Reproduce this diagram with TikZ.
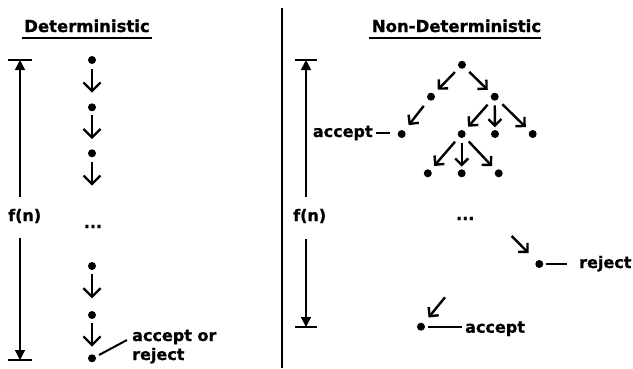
\documentclass[tikz,border=0pt]{standalone}
\usepackage{fontspec}
\setmainfont{DejaVu Sans}[BoldFeatures={FakeBold=1}]
\usetikzlibrary{arrows.meta,calc}
\begin{document}
\begin{tikzpicture}[x=1pt,y=-1pt,
  dot/.style={circle,fill=black,inner sep=0pt,minimum size=8pt},
  lab/.style={font=\fontsize{16}{19}\selectfont\bfseries,inner sep=0pt},
  ttl/.style={font=\fontsize{16.5}{19}\selectfont\bfseries,inner sep=0pt,anchor=base},
  arr/.style={line width=2.3pt,-{Straight Barb[length=8.5pt,width=17pt]}},
  tarr/.style={line width=2.4pt,-{Straight Barb[length=6.5pt,width=13pt]}},
  fa/.style={line width=1.5pt,-{Triangle[length=10pt,width=10pt]}},
  bar/.style={line width=1.5pt},
  ul/.style={line width=1.7pt},
  tie/.style={line width=2pt}]
\fill[white] (0,0) rectangle (633,368);
\useasboundingbox (0,0) rectangle (633,368);
% titles
\node[ttl] (t1) at (87,32) {Deterministic};
\draw[ul] ($(t1.base west)+(-2,6)$) -- ($(t1.base east)+(2,6)$);
\node[ttl] (t2) at (456.5,32) {Non-Deterministic};
\draw[ul] ($(t2.base west)+(-3,6)$) -- ($(t2.base east)+(0,6)$);
% divider
\draw[line width=1.6pt] (282,8) -- (282,368);
% left f(n)
\coordinate (lt) at (20,60);
\coordinate (lb) at (20,360);
\draw[bar] ($(lt)+(-12,0)$) -- ($(lt)+(12,0)$);
\draw[bar] ($(lb)+(-12,0)$) -- ($(lb)+(12,0)$);
\node[lab,anchor=base west] (f1) at (8,221) {f(n)};
\draw[fa] ($(lt |- f1.north)+(0,-12)$) -- (lt);
\draw[fa] ($(lb |- f1.south)+(0,15)$) -- (lb);
% left chain
\node[dot] (d1) at (92,60) {};
\node[dot] (d2) at (92,107.3) {};
\node[dot] (d3) at (92,153.3) {};
\coordinate (d3e) at (92,185.7);
\node[lab,anchor=base] (dl) at (93,228) {...};
\node[dot] (d4) at (92,266) {};
\node[dot] (d5) at (92,315) {};
\node[dot] (d6) at (92,358.3) {};
\draw[arr,shorten <=4.3pt,shorten >=10.5pt] (d1) -- (d2);
\draw[arr,shorten <=3.7pt,shorten >=10pt] (d2) -- (d3);
\draw[arr,shorten <=4.3pt] (d3) -- (d3e);
\draw[arr,shorten <=4pt,shorten >=12.5pt] (d4) -- (d5);
\draw[arr,shorten <=3.7pt,shorten >=7.5pt] (d5) -- (d6);
\node[lab,align=left,anchor=base west] (res) at (132,360) {accept or\\reject};
\draw[tie] ($(d6)+(7,-3.3)$) -- ($(res.base west)+(-5,-20)$);
% right f(n)
\coordinate (rt) at (306,60);
\coordinate (rb) at (306,327);
\draw[bar] ($(rt)+(-11,0)$) -- ($(rt)+(11,0)$);
\draw[bar] ($(rb)+(-11,0)$) -- ($(rb)+(11,0)$);
\node[lab,anchor=base west] (f2) at (293,221) {f(n)};
\draw[fa] ($(rt |- f2.north)+(0,-12)$) -- (rt);
\draw[fa] ($(rb |- f2.south)+(0,16)$) -- (rb);
% tree
\node[dot] (r) at (462,64.8) {};
\node[dot] (a) at (431,96.7) {};
\node[dot] (b) at (494.7,96.7) {};
\node[dot] (c1) at (401.7,134) {};
\node[dot] (c2) at (461.7,134) {};
\node[dot] (c3) at (495,134) {};
\node[dot] (c4) at (532.7,134) {};
\node[dot] (e1) at (427.8,173.3) {};
\node[dot] (e2) at (461.7,173.3) {};
\node[dot] (e3) at (498.7,173.3) {};
\draw[tarr,shorten <=6pt,shorten >=5.5pt] (r) -- (a);
\draw[tarr,shorten <=6pt,shorten >=5.5pt] (r) -- (b);
\draw[tarr,shorten <=7.5pt,shorten >=7pt] (a) -- (c1);
\draw[tarr,shorten <=6.5pt,shorten >=5.5pt] (b) -- (c2);
\draw[tarr,shorten <=4.5pt,shorten >=2.5pt] (b) -- (c3);
\draw[tarr,shorten <=6.5pt,shorten >=5.5pt] (b) -- (c4);
\draw[tarr,shorten <=6pt,shorten >=5.5pt] (c2) -- (e1);
\draw[tarr,shorten <=4.5pt,shorten >=2.5pt] (c2) -- (e2);
\draw[tarr,shorten <=6pt,shorten >=5.5pt] (c2) -- (e3);
\node[lab,anchor=base west] (accL) at (312.7,137) {accept};
\draw[tie,shorten <=3.4pt,shorten >=11.7pt] (accL.east) -- (accL.east -| c1.center);
\node[lab,anchor=base] (dr) at (465.3,220) {...};
% reject
\node[dot] (rd) at (539.3,264) {};
\coordinate (rs) at (511.7,236);
\draw[tarr,shorten >=11pt] (rs) -- (rd);
\node[lab,anchor=base west] (rejL) at (579,268) {reject};
\draw[tie,shorten <=6.5pt,shorten >=12.3pt] (rd.center) -- (rd.center -| rejL.west);
% accept bottom
\node[dot] (ad) at (421,326.7) {};
\coordinate (as) at (445,297.3);
\draw[tarr,shorten >=7.7pt] (as) -- (ad);
\node[lab,anchor=base west] (accB) at (465,332.7) {accept};
\draw[tie,shorten <=7.2pt,shorten >=3.3pt] (ad.center) -- (ad.center -| accB.west);
\end{tikzpicture}
\end{document}
